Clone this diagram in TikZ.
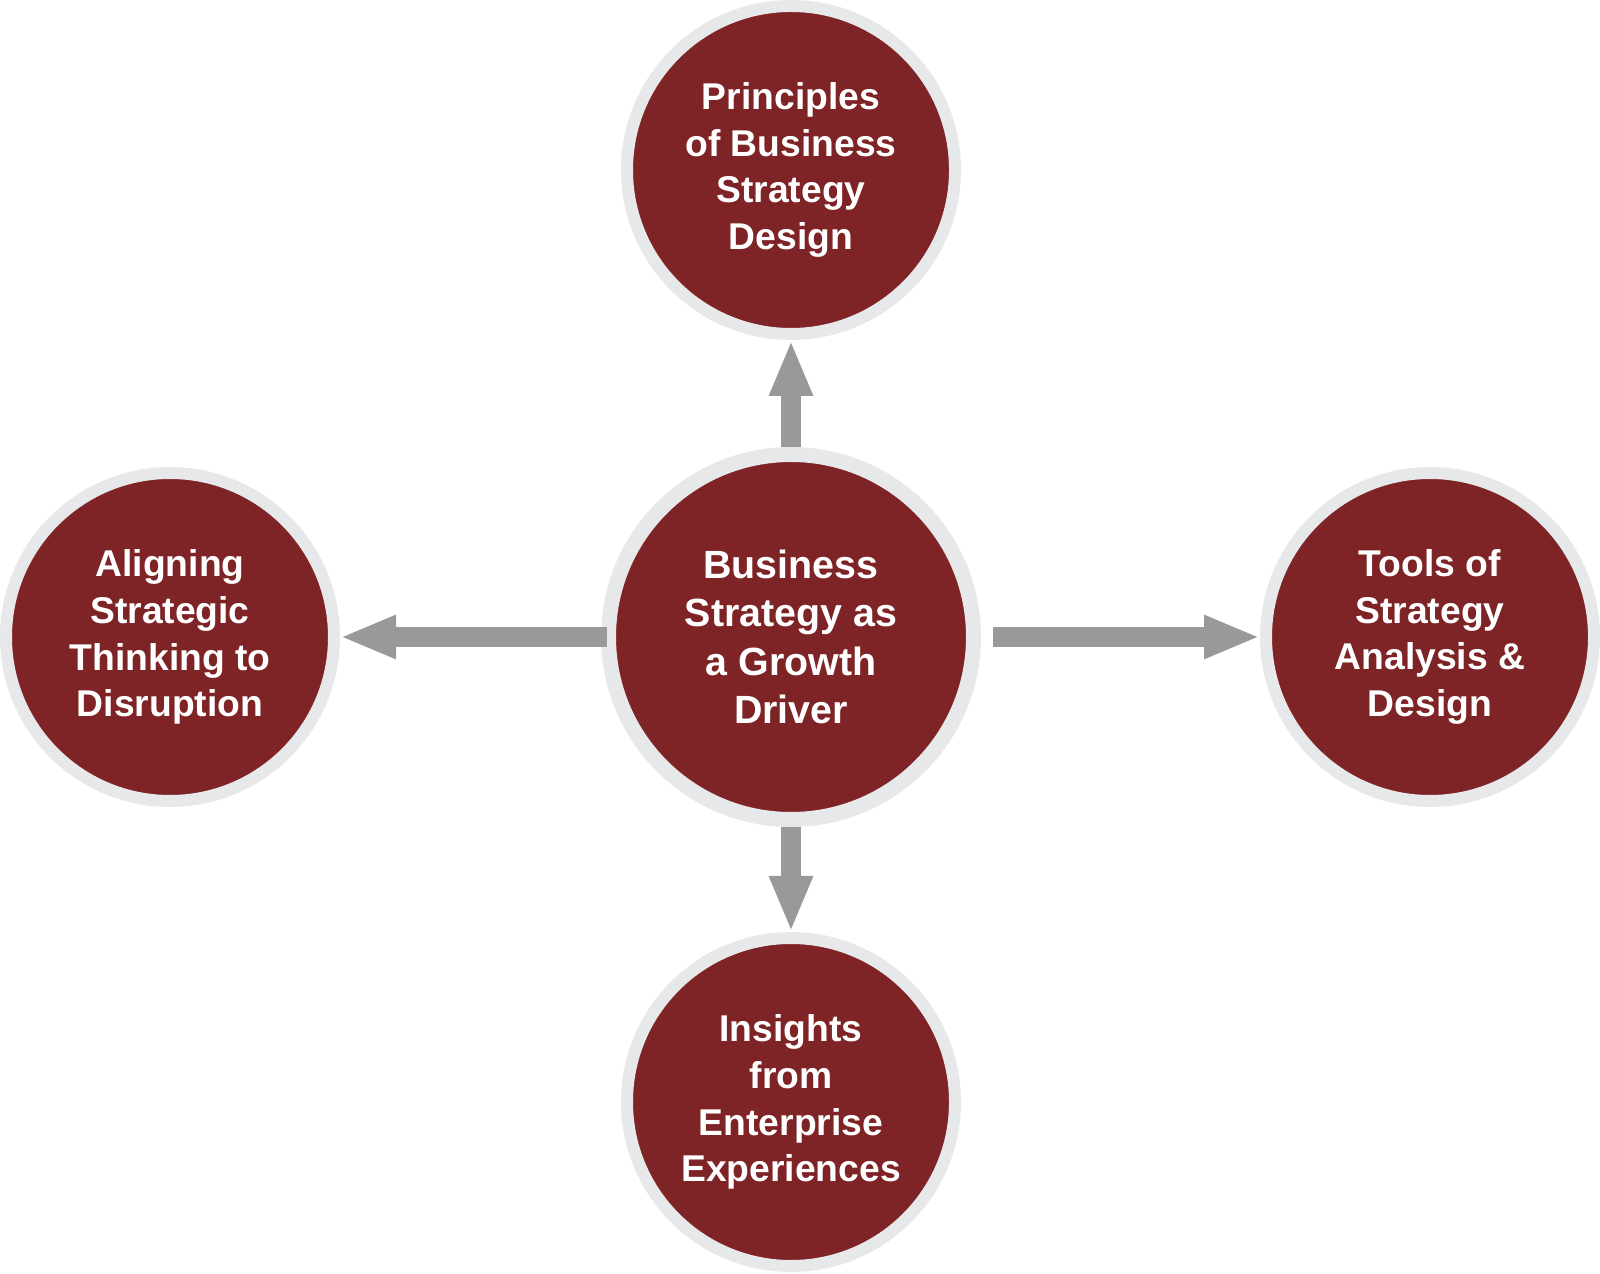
\documentclass[tikz,border=0pt]{standalone}
\usepackage{fontspec}
\setmainfont{Liberation Sans}
\usetikzlibrary{arrows.meta}

\begin{document}
\begin{tikzpicture}
    \definecolor{discColour}{HTML}{7E2426}
    \definecolor{ringColour}{HTML}{E7E8E9}
    \definecolor{arrowColour}{HTML}{98999B}

    \tikzset{
        topicCircle/.style={circle, fill=discColour, draw=ringColour, line width=0.12cm,
            minimum size=3.28cm, inner sep=0pt, align=center, text=white,
            font=\bfseries\fontsize{10.6}{13.3}\selectfont},
        hubCircle/.style={topicCircle, line width=0.15cm, minimum size=3.65cm,
            font=\bfseries\fontsize{11.2}{13.8}\selectfont},
        flowArrow/.style={draw=arrowColour, line width=0.2cm,
            -{Triangle[length=0.56cm, width=0.40cm]}}
    }

    % Fix the page size
    \useasboundingbox (0,0) rectangle (16,12.73);

    % Draw the central circle
    \node[hubCircle] (growth) at (7.91,6.36) {Business\\Strategy as\\a Growth\\Driver};

    % Draw the four outer circles
    \node[topicCircle] (principles) at (7.91,11.03) {Principles\\of Business\\Strategy\\Design};
    \node[topicCircle] (aligning) at (1.70,6.36) {Aligning\\Strategic\\Thinking to\\Disruption};
    \node[topicCircle] (tools) at (14.30,6.36) {Tools of\\Strategy\\Analysis \&\\Design};
    \node[topicCircle] (insights) at (7.91,1.71) {Insights\\from\\Enterprise\\Experiences};

    % Draw the arrows
    \draw[flowArrow] (growth.north) -- (principles.south);
    \draw[flowArrow, shorten <=-0.06cm] (growth.west) -- (aligning.east);
    \draw[flowArrow, shorten <=0.12cm] (growth.east) -- (tools.west);
    \draw[flowArrow] (growth.south) -- (insights.north);

\end{tikzpicture}
\end{document}
